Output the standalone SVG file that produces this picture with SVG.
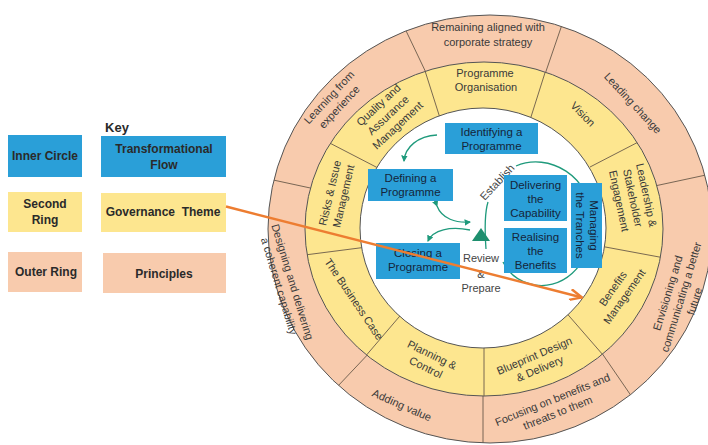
<svg xmlns="http://www.w3.org/2000/svg" width="708" height="445" viewBox="0 0 708 445">
<defs>
<style>
.t{font-family:"Liberation Sans",Arial,sans-serif;font-size:11px;fill:#3a3a3a;text-anchor:middle}
.b{font-family:"Liberation Sans",Arial,sans-serif;font-size:11.5px;fill:#15253a;text-anchor:middle}
.k{font-family:"Liberation Sans",Arial,sans-serif;font-size:12px;font-weight:bold;fill:#2a2a2a;text-anchor:middle}
.blue{fill:#2A9FD8}
.yel{fill:#FDE68F}
.pea{fill:#F8CBAD}
.div{stroke:#6a5a4a;stroke-width:0.9;fill:none}
.ring{stroke:#555;stroke-width:1}
.g{stroke:#1f9a7c;stroke-width:1.3;fill:none}
</style>
<clipPath id="cOuter"><ellipse cx="490" cy="229" rx="222" ry="214"/></clipPath>
<clipPath id="cYel"><ellipse cx="484" cy="229" rx="179" ry="167"/></clipPath>
<marker id="gh" viewBox="0 0 6 6" refX="5" refY="3" markerWidth="5" markerHeight="5" orient="auto"><path d="M0,0 L6,3 L0,6 z" fill="#1f9a7c"/></marker>
<marker id="oh" viewBox="0 0 14 12" refX="13" refY="6" markerWidth="14" markerHeight="12" markerUnits="userSpaceOnUse" orient="auto"><path d="M1,0.5 L13,6 L1,11.5" fill="none" stroke="#ED7D31" stroke-width="2.4"/></marker>
</defs>

<!-- rings -->
<ellipse class="pea ring" cx="490" cy="229" rx="222" ry="214"/>
<g clip-path="url(#cOuter)">
<line class="div" x1="398" y1="14" x2="430" y2="81"/>
<line class="div" x1="566" y1="13" x2="543" y2="80"/>
<line class="div" x1="650" y1="187" x2="720" y2="172"/>
<line class="div" x1="597" y1="346" x2="645" y2="416"/>
<line class="div" x1="483" y1="380" x2="483" y2="450"/>
<line class="div" x1="372" y1="350" x2="320" y2="405"/>
<line class="div" x1="315" y1="189" x2="250" y2="175"/>
</g>
<ellipse class="yel ring" cx="484" cy="229" rx="179" ry="167"/>
<g clip-path="url(#cYel)">
<line class="div" x1="420" y1="55" x2="440" y2="118"/>
<line class="div" x1="550" y1="57" x2="530" y2="120"/>
<line class="div" x1="590" y1="167" x2="648" y2="137"/>
<line class="div" x1="600" y1="246" x2="670" y2="259"/>
<line class="div" x1="563" y1="309" x2="610" y2="363"/>
<line class="div" x1="484" y1="340" x2="484" y2="400"/>
<line class="div" x1="405" y1="310" x2="358" y2="365"/>
<line class="div" x1="297" y1="256" x2="367" y2="247"/>
<line class="div" x1="320" y1="138" x2="378" y2="168"/>
</g>
<ellipse class="ring" fill="#fff" cx="483" cy="228" rx="123" ry="120"/>

<!-- outer ring principles -->
<g id="p-aligned"><text class="t" x="488" y="31">Remaining aligned with</text><text class="t" x="488" y="46">corporate strategy</text></g>
<g id="p-learning" transform="translate(334,102) rotate(-47)"><text class="t" x="0" y="-3">Learning from</text><text class="t" x="0" y="11">experience</text></g>
<g id="p-leading" transform="translate(633,103) rotate(47)"><text class="t" x="0" y="4">Leading change</text></g>
<g id="p-envisioning" transform="translate(681,297) rotate(-73)"><text class="t" x="0" y="-10">Envisioning and</text><text class="t" x="0" y="4">communicating a better</text><text class="t" x="0" y="18">future</text></g>
<g id="p-focusing" transform="translate(555,406) rotate(-22)"><text class="t" x="0" y="-3">Focusing on benefits and</text><text class="t" x="0" y="11">threats to them</text></g>
<g id="p-adding" transform="translate(402,405) rotate(24)"><text class="t" x="0" y="4">Adding value</text></g>
<g id="p-designing" transform="translate(286,284) rotate(73)"><text class="t" x="0" y="-3">Designing and delivering</text><text class="t" x="0" y="11">a coherent capability</text></g>

<!-- second ring themes -->
<g id="t-organisation"><text class="t" x="485" y="77">Programme</text><text class="t" x="486" y="91">Organisation</text></g>
<g id="t-vision" transform="translate(583,114) rotate(45)"><text class="t" x="0" y="4">Vision</text></g>
<g id="t-leadership" transform="translate(633,198) rotate(78)"><text class="t" x="0" y="-10">Leadership &amp;</text><text class="t" x="0" y="4">Stakeholder</text><text class="t" x="0" y="18">Engagement</text></g>
<g id="t-benefits" transform="translate(618.5,292.5) rotate(-55)"><text class="t" x="0" y="-3">Benefits</text><text class="t" x="0" y="11">Management</text></g>
<g id="t-blueprint" transform="translate(537,362) rotate(-23)"><text class="t" x="0" y="-3">Blueprint Design</text><text class="t" x="0" y="11">&amp; Delivery</text></g>
<g id="t-planning" transform="translate(429,361) rotate(26)"><text class="t" x="0" y="-3">Planning &amp;</text><text class="t" x="0" y="11">Control</text></g>
<g id="t-business" transform="translate(354,299) rotate(56)"><text class="t" x="0" y="4">The Business Case</text></g>
<g id="t-risks" transform="translate(336.5,194.5) rotate(-77)"><text class="t" x="0" y="-3">Risks &amp; Issue</text><text class="t" x="0" y="11">Management</text></g>
<g id="t-quality" transform="translate(388,115) rotate(-43)"><text class="t" x="0" y="-10">Quality and</text><text class="t" x="0" y="4">Assurance</text><text class="t" x="0" y="18">Management</text></g>

<!-- transformational flow connectors -->
<g id="flow">
<path class="g" d="M437,135 C418,136 405,147 404,161" marker-end="url(#gh)"/>
<path class="g" d="M437,206 C442,219 456,223 470,222" marker-start="url(#gh)" marker-end="url(#gh)"/>
<path class="g" d="M470,230 C450,226 433,230 428,241" marker-end="url(#gh)"/>
<path class="g" d="M486,249 C485,235 484,215 488,202"/>
<path class="g" d="M516,166 C548,152 592,175 592,222 C592,268 560,292 530,284 C516,280 508,272 503,262"/>
<polygon points="481,228 472,241 490,241" fill="#1e8f6e"/>
<text class="t" transform="translate(497,182) rotate(-47)" x="0" y="4" style="fill:#444">Establish</text>
<text class="t" x="481" y="262" style="fill:#444">Review</text>
<text class="t" x="481" y="278" style="fill:#444">&amp;</text>
<text class="t" x="481" y="292" style="fill:#444">Prepare</text>
</g>

<!-- inner circle boxes -->
<g id="n-identifying"><rect class="blue" x="445" y="123" width="93" height="31"/><text class="b" x="491.5" y="136">Identifying a</text><text class="b" x="491.5" y="150">Programme</text></g>
<g id="n-defining"><rect class="blue" x="368" y="169" width="85" height="32"/><text class="b" x="410.5" y="182">Defining a</text><text class="b" x="410.5" y="196">Programme</text></g>
<g id="n-closing"><rect class="blue" x="376" y="243" width="84" height="36"/><text class="b" x="418" y="257">Closing a</text><text class="b" x="418" y="271">Programme</text></g>
<g id="n-delivering"><rect class="blue" x="504" y="175" width="63" height="46"/><text class="b" x="535.5" y="189">Delivering</text><text class="b" x="535.5" y="203">the</text><text class="b" x="535.5" y="217">Capability</text></g>
<g id="n-realising"><rect class="blue" x="504" y="228" width="63" height="45"/><text class="b" x="535.5" y="241">Realising</text><text class="b" x="535.5" y="255">the</text><text class="b" x="535.5" y="269">Benefits</text></g>
<g id="n-managing"><rect class="blue" x="571" y="183" width="31" height="85"/><g transform="translate(586.5,225.5) rotate(90)"><text class="b" x="0" y="-3">Managing</text><text class="b" x="0" y="11">the Tranches</text></g></g>

<!-- key -->
<g id="key">
<text class="k" x="117" y="132" style="font-size:13px">Key</text>
<g id="key-inner"><rect class="blue" x="8" y="135" width="74" height="42"/><text class="k" x="45" y="160">Inner Circle</text></g>
<g id="key-flow"><rect class="blue" x="101" y="136" width="125" height="41"/><text class="k" x="164" y="153">Transformational</text><text class="k" x="164" y="169">Flow</text></g>
<g id="key-second"><rect class="yel" x="8" y="192" width="74" height="40"/><text class="k" x="45" y="208">Second</text><text class="k" x="45" y="224">Ring</text></g>
<g id="key-theme"><rect class="yel" x="101" y="193" width="125" height="39"/><text class="k" x="163" y="216" xml:space="preserve">Governance  Theme</text></g>
<g id="key-outer"><rect class="pea" x="8" y="252" width="74" height="40"/><text class="k" x="46" y="276">Outer Ring</text></g>
<g id="key-principles"><rect class="pea" x="103" y="253" width="123" height="40"/><text class="k" x="164" y="278">Principles</text></g>
</g>

<!-- key pointer -->
<g id="connectors">
<line x1="226" y1="206.5" x2="582" y2="297.5" stroke="#ED7D31" stroke-width="2.4" marker-end="url(#oh)"/>
</g>
</svg>
